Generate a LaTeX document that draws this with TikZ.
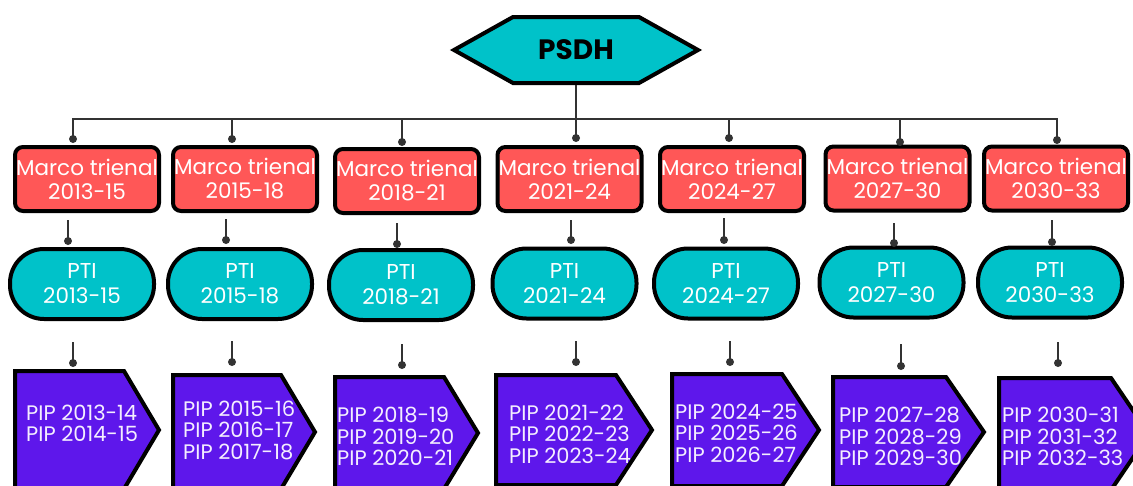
\documentclass[tikz,border=0pt]{standalone}
\usepackage{fontspec}
\setmainfont{Poppins}
\usetikzlibrary{calc}

\definecolor{hexteal}{HTML}{00C2C9}
\definecolor{marcored}{HTML}{FF5757}
\definecolor{pipviolet}{HTML}{5E17EB}
\definecolor{linkgray}{HTML}{333333}
\definecolor{piplabel}{HTML}{F4EEFF}

\tikzset{
  hexshape/.style={draw=black, line width=4pt, fill=hexteal, line join=miter},
  hexlabel/.style={minimum width=128pt, minimum height=70pt, inner sep=0pt,
    font=\fontsize{28}{30}\selectfont\bfseries, text=black},
  marcobox/.style={draw=black, line width=4pt, fill=marcored, rounded corners=8pt,
    minimum width=144pt, minimum height=64pt, inner sep=0pt, align=center,
    text=white, font=\fontsize{21.5}{24}\selectfont},
  ptibox/.style={draw=black, line width=4pt, fill=hexteal, rounded corners=34pt,
    minimum width=144pt, minimum height=70pt, inner sep=0pt, align=center,
    text=white, font=\fontsize{21.5}{25}\selectfont},
  pipshape/.style={draw=black, line width=4pt, fill=pipviolet, line join=miter},
  piptext/.style={anchor=west, inner sep=0pt, align=left, text=piplabel,
    font=\fontsize{21}{21.5}\selectfont},
  link/.style={draw=linkgray, line width=2pt},
  linkdot/.style={fill=linkgray},
}

\begin{document}
\begin{tikzpicture}[x=1pt, y=-1pt]
\useasboundingbox (0,0) rectangle (1133,485);
\clip (0,0) rectangle (1133,485);

% top hexagon
\draw[hexshape] (454,50) -- (513,17) -- (639,17) -- (698,50) -- (639,83) -- (513,83) -- cycle;
\node[hexlabel] (psdh) at (576,50) {PSDH};

% bus under the hexagon
\coordinate (bus) at (576,119);
\coordinate (busL) at (72,119);
\coordinate (busR) at (1058,119);
\draw[link] (psdh.south) -- (bus);
\draw[link] (busL) -- (busR);

% Marco trienal boxes
\node[marcobox] (m1) at (87,179)    {Marco trienal\\2013-15};
\node[marcobox] (m2) at (245,179)   {Marco trienal\\2015-18};
\node[marcobox] (m3) at (407,181)   {Marco trienal\\2018-21};
\node[marcobox] (m4) at (569.5,179) {Marco trienal\\2021-24};
\node[marcobox] (m5) at (732,179)   {Marco trienal\\2024-27};
\node[marcobox] (m6) at (897.5,178.5) {Marco trienal\\2027-30};
\node[marcobox] (m7) at (1056,178.5) {Marco trienal\\2030-33};

% PTI capsules
\node[ptibox] (t1) at (82,284)     {PTI\\2013-15};
\node[ptibox] (t2) at (240,284)    {PTI\\2015-18};
\node[ptibox] (t3) at (401,285)    {PTI\\2018-21};
\node[ptibox] (t4) at (564.5,283.5) {PTI\\2021-24};
\node[ptibox] (t5) at (726,283.5)  {PTI\\2024-27};
\node[ptibox] (t6) at (891.5,282.5) {PTI\\2027-30};
\node[ptibox] (t7) at (1050,282.5) {PTI\\2030-33};

% PIP pentagons
\draw[pipshape] (15,371) -- (124,371) -- (159,430) -- (124,489) -- (15,489) -- cycle;
\draw[pipshape] (173,375) -- (281,375) -- (315,432) -- (281,489) -- (173,489) -- cycle;
\draw[pipshape] (335,377) -- (444,377) -- (478,433) -- (444,489) -- (335,489) -- cycle;
\draw[pipshape] (496,375) -- (616,375) -- (652,430) -- (616,485) -- (496,485) -- cycle;
\draw[pipshape] (672,374) -- (782,374) -- (819,430) -- (782,486) -- (672,486) -- cycle;
\draw[pipshape] (833,377) -- (946,377) -- (984,432) -- (946,487) -- (833,487) -- cycle;
\draw[pipshape] (999,378) -- (1111,378) -- (1149,434) -- (1111,490) -- (999,490) -- cycle;

\node[piptext] (p1) at (26,423.5)  {PIP 2013-14\\PIP 2014-15};
\node[piptext] (p2) at (183,430)   {PIP 2015-16\\PIP 2016-17\\PIP 2017-18};
\node[piptext] (p3) at (337,436.5) {PIP 2018-19\\PIP 2019-20\\PIP 2020-21};
\node[piptext] (p4) at (509,434)   {PIP 2021-22\\PIP 2022-23\\PIP 2023-24};
\node[piptext] (p5) at (675,433)   {PIP 2024-25\\PIP 2025-26\\PIP 2026-27};
\node[piptext] (p6) at (839,436.5) {PIP 2027-28\\PIP 2028-29\\PIP 2029-30};
\node[piptext] (p7) at (1002,436.5) {PIP 2030-31\\PIP 2031-32\\PIP 2032-33};

% drops from the bus to each Marco box
\foreach \n/\x/\y in {1/73/139, 2/232/139, 3/402/142, 4/576/138, 5/729/138, 6/900/142, 7/1057/140}{
  \coordinate (md\n) at (\x,\y);
  \draw[link] (md\n |- bus) -- (md\n);
  \fill[linkdot] (md\n) circle (4pt);
}

% short stubs above the PTI capsules
\foreach \n/\x/\ya/\yb in {1/68/220/241, 2/226/219/240, 3/397/223/244, 4/571/220/240, 5/724/218/240, 6/894/223/243, 7/1052/220/242}{
  \coordinate (ts\n) at (\x,\ya);
  \coordinate (td\n) at (\x,\yb);
  \draw[link] (ts\n) -- (td\n);
  \fill[linkdot] (td\n) circle (4pt);
}

% short stubs above the PIP pentagons
\foreach \n/\x/\ya/\yb in {1/73/342/363, 2/232/341/362, 3/402/344/365, 4/576/341/362, 5/730/341/362, 6/901/344/366, 7/1058/342/363}{
  \coordinate (ps\n) at (\x,\ya);
  \coordinate (pd\n) at (\x,\yb);
  \draw[link] (ps\n) -- (pd\n);
  \fill[linkdot] (pd\n) circle (4pt);
}
\end{tikzpicture}
\end{document}
